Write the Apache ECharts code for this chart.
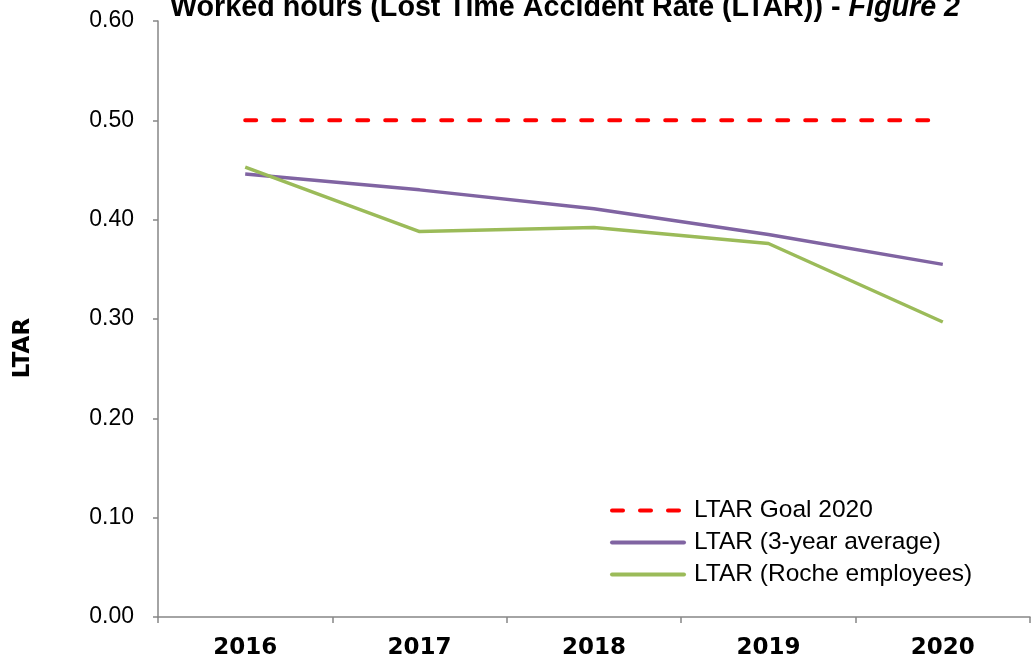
<!DOCTYPE html>
<html>
<head>
<meta charset="utf-8">
<script src="https://cdn.jsdelivr.net/npm/echarts@6/dist/echarts.min.js"></script>
<style>
  html, body { margin: 0; padding: 0; background: #fff; }
  #main { width: 1032px; height: 663px; }
</style>
</head>
<body>
<div id="main"></div>
<script>
// data
const years = ["2016", "2017", "2018", "2019", "2020"]
const goal2020 = [0.50, 0.50, 0.50, 0.50, 0.50]
const avg3Year = [0.446, 0.430, 0.411, 0.385, 0.355]
const rocheEmployees = [0.453, 0.388, 0.392, 0.376, 0.297]
const seriesNames = ["LTAR Goal 2020", "LTAR (3-year average)", "LTAR (Roche employees)"]

const chartDom = document.getElementById("main")
const myChart = echarts.init(chartDom)

const axisGrey = "#868686"

const option = {
  animation: false,
  backgroundColor: "#fff",
  title: {
    text: "{b|Worked hours (Lost Time Accident Rate (LTAR)) - }{i|Figure 2}",
    left: 170,
    top: -6,
    padding: 0,
    textStyle: {
      rich: {
        b: { fontFamily: "Liberation Sans", fontWeight: "bold", fontSize: 28.7, color: "#000" },
        i: { fontFamily: "Liberation Sans", fontWeight: "bold", fontStyle: "italic", fontSize: 28.7, color: "#000" },
      },
    },
  },
  graphic: [
    {
      type: "text",
      x: 23,
      y: 348,
      rotation: Math.PI / 2,
      style: {
        text: "LTAR",
        font: "bold 23px 'DejaVu Sans'",
        fill: "#000",
        textAlign: "center",
        textVerticalAlign: "middle",
      },
    },
  ],
  grid: {
    left: 158,
    right: 2,
    top: 21,
    bottom: 46,
  },
  legend: {
    orient: "vertical",
    left: 605,
    top: 493,
    itemWidth: 72,
    itemHeight: 20,
    itemGap: 7,
    data: seriesNames,
    itemStyle: { opacity: 0, color: "rgba(0,0,0,0)", borderWidth: 0 },
    lineStyle: { width: 4, cap: "round" },
    textStyle: {
      fontFamily: "Liberation Sans",
      fontSize: 24.5,
      color: "#000",
      padding: [0, 0, 0, 5],
    },
  },
  xAxis: {
    type: "category",
    data: years,
    boundaryGap: true,
    axisLine: { lineStyle: { color: axisGrey, width: 1.5 } },
    axisTick: { show: true, length: 6, lineStyle: { color: axisGrey, width: 1.5 } },
    axisLabel: {
      margin: 20,
      fontFamily: "DejaVu Sans",
      fontWeight: "bold",
      fontSize: 23,
      color: "#000",
    },
    splitLine: { show: false },
  },
  yAxis: {
    type: "value",
    min: 0,
    max: 0.6,
    interval: 0.1,
    axisLine: { show: true, lineStyle: { color: axisGrey, width: 1.5 } },
    axisTick: { show: true, length: 5, lineStyle: { color: axisGrey, width: 1.5 } },
    axisLabel: {
      margin: 24,
      fontFamily: "Liberation Sans",
      fontSize: 23,
      color: "#000",
      formatter: (v) => v.toFixed(2),
    },
    splitLine: { show: false },
  },
  series: [
    {
      name: seriesNames[0],
      type: "line",
      data: goal2020,
      symbol: "none",
      color: "#FF0000",
      lineStyle: { color: "#FF0000", width: 4, type: [11, 17], cap: "round" },
      z: 3,
    },
    {
      name: seriesNames[1],
      type: "line",
      data: avg3Year,
      symbol: "none",
      color: "#8064A2",
      lineStyle: { color: "#8064A2", width: 3.5 },
      z: 2,
    },
    {
      name: seriesNames[2],
      type: "line",
      data: rocheEmployees,
      symbol: "none",
      color: "#9BBB59",
      lineStyle: { color: "#9BBB59", width: 3.5 },
      z: 2,
    },
  ],
}

option && myChart.setOption(option)
</script>
</body>
</html>
